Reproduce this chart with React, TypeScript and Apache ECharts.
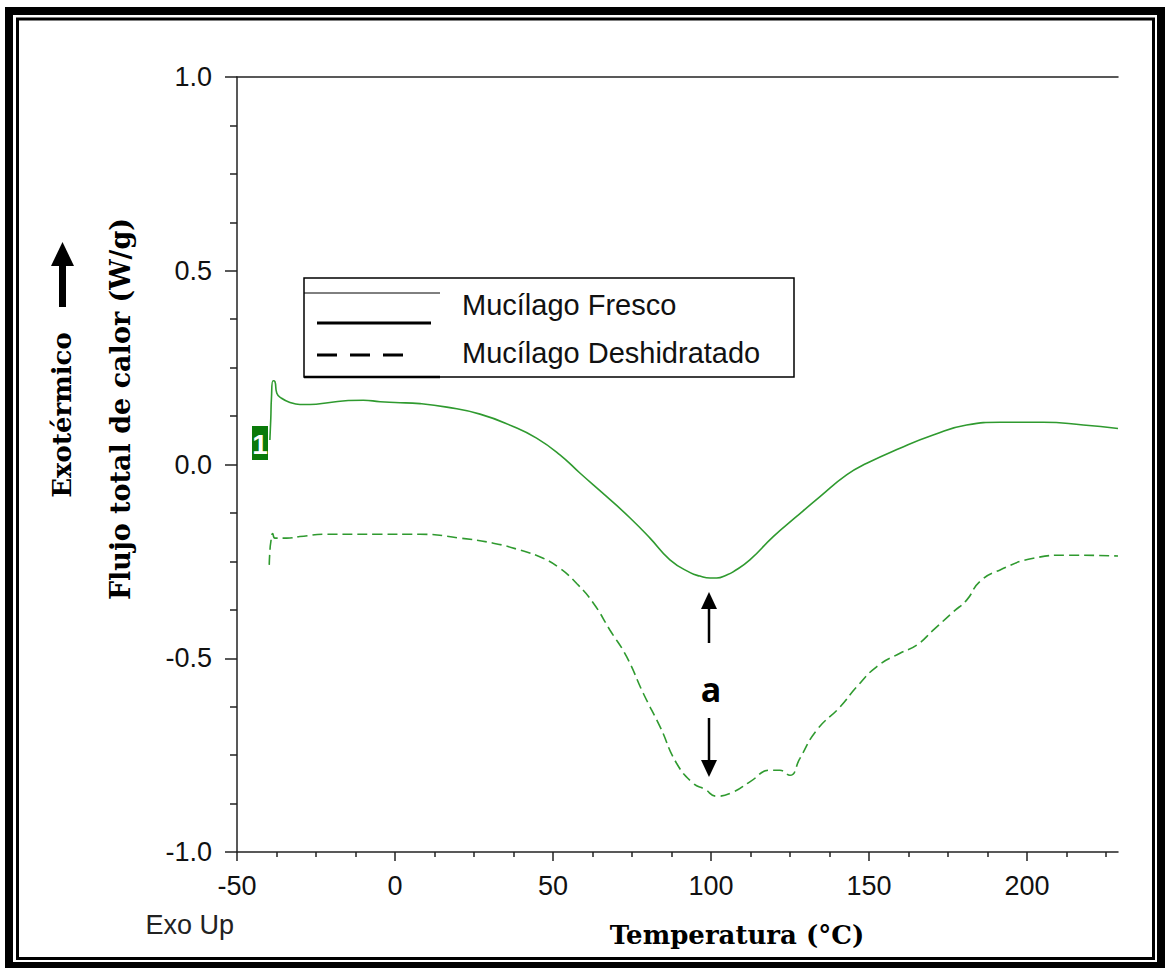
import React, { useEffect, useRef } from 'react';
import * as echarts from 'echarts';

const seriesNames = ['Mucílago Fresco', 'Mucílago Deshidratado'];

// Mucílago Fresco (solid)
const freshT = [-39.6, -39.3, -39.1, -38.6, -38.0, -37.4, -35.9, -33.2, -30.1, -26.9, -20.6, -14.8, -10, -4.7, 0, 7.9, 16.4, 26.9, 37.4, 44.8, 52.2, 58.5, 67.0, 74.4, 80.7, 87.0, 93.4, 96.5, 99.7, 101.8, 105.0, 107.0, 112.3, 119.7, 127.1, 134.5, 142.9, 149.3, 159.8, 170.3, 180.9, 191.5, 205.1, 217.8, 228.8];
const freshQ = [0.063, 0.12, 0.171, 0.216, 0.214, 0.184, 0.171, 0.160, 0.155, 0.155, 0.160, 0.165, 0.166, 0.162, 0.160, 0.157, 0.148, 0.130, 0.098, 0.068, 0.025, -0.022, -0.083, -0.138, -0.190, -0.246, -0.279, -0.288, -0.293, -0.293, -0.285, -0.277, -0.246, -0.186, -0.134, -0.083, -0.027, 0.003, 0.042, 0.076, 0.102, 0.109, 0.109, 0.102, 0.093];

// Mucílago Deshidratado (dashed)
const dryT = [-39.8, -39.6, -39.3, -38.7, -38.0, -34.3, -30.1, -21.6, -5.8, 7.9, 20.6, 31.1, 39.6, 46.9, 52.2, 57.5, 62.8, 68.0, 73.3, 78.6, 83.9, 89.1, 94.4, 98.0, 101.8, 107.1, 112.3, 118.7, 121.8, 125.0, 128.1, 133.4, 140.8, 146.1, 152.4, 159.8, 165.1, 170.4, 176.7, 180.9, 185.1, 191.5, 202.0, 212.6, 228.8];
const dryQ = [-0.259, -0.225, -0.200, -0.178, -0.190, -0.190, -0.186, -0.180, -0.180, -0.180, -0.190, -0.203, -0.221, -0.242, -0.268, -0.307, -0.358, -0.427, -0.496, -0.591, -0.677, -0.771, -0.823, -0.838, -0.856, -0.845, -0.819, -0.789, -0.789, -0.802, -0.759, -0.686, -0.626, -0.574, -0.522, -0.487, -0.466, -0.427, -0.380, -0.350, -0.302, -0.272, -0.242, -0.234, -0.236];

const xMajorTicks = [-50, 0, 50, 100, 150, 200];
const xMinorTicks = [-37.5, -25, -12.5, 12.5, 25, 37.5, 62.5, 75, 87.5, 112.5, 125, 137.5, 162.5, 175, 187.5, 212.5, 225];
const xMin = -50;
const xMax = 228.8;

const AXIS_COLOR = '#222';
const GREEN = '#2f9a2f';
const SANS = 'Arial, "Liberation Sans", sans-serif';
const SERIF = '"DejaVu Serif", serif';

const zip = (a: number[], b: number[]) => a.map((v, i) => [v, b[i]]);

function txt(text: string, x: number, y: number, opts: any = {}) {
  const align = opts.align || 'center';
  const valign = opts.valign || 'middle';
  return {
    type: 'text',
    x,
    y,
    rotation: opts.rotation || 0,
    silent: true,
    style: {
      text,
      fill: opts.fill || '#111',
      fontSize: opts.fontSize || 26,
      fontFamily: opts.fontFamily || SANS,
      fontWeight: opts.fontWeight || 'normal',
      align,
      verticalAlign: valign,
      textAlign: align,
      textVerticalAlign: valign,
    },
  };
}

export default function App() {
  const ref = useRef<HTMLDivElement>(null);

  useEffect(() => {
    if (!ref.current) return;
    const chart = echarts.init(ref.current, null, { renderer: 'svg' });
    const lineStyle = { color: AXIS_COLOR, width: 1.5 };

    const graphic: any[] = [
      // outer double border
      { type: 'rect', shape: { x: 9, y: 11, width: 1152, height: 955 }, style: { fill: 'none', stroke: '#000', lineWidth: 8 }, silent: true },
      { type: 'rect', shape: { x: 17.5, y: 19, width: 1136, height: 939.5 }, style: { fill: 'none', stroke: '#000', lineWidth: 3 }, silent: true },
      // legend box
      { type: 'rect', shape: { x: 304, y: 278, width: 490, height: 99 }, style: { fill: '#fff', stroke: '#000', lineWidth: 1.5 }, silent: true, z: 10 },
      { type: 'line', shape: { x1: 304, y1: 293, x2: 440, y2: 293 }, style: { stroke: '#000', lineWidth: 1 }, silent: true, z: 11 },
      { type: 'line', shape: { x1: 304, y1: 377, x2: 440, y2: 377 }, style: { stroke: '#000', lineWidth: 2.5 }, silent: true, z: 11 },
      { type: 'line', shape: { x1: 317, y1: 323, x2: 431, y2: 323 }, style: { stroke: '#000', lineWidth: 3 }, silent: true, z: 11 },
      { type: 'line', shape: { x1: 317, y1: 355, x2: 412, y2: 355 }, style: { stroke: '#000', lineWidth: 3, lineDash: [20, 13] }, silent: true, z: 11 },
      { ...txt(seriesNames[0], 462, 305, { align: 'left', fontSize: 29 }), z: 11 },
      { ...txt(seriesNames[1], 462, 353, { align: 'left', fontSize: 29 }), z: 11 },
      // "1" marker
      { type: 'rect', shape: { x: 252, y: 426, width: 16, height: 34 }, style: { fill: '#0a7a0a' }, silent: true, z: 12 },
      { ...txt('1', 260, 444, { fill: '#fff', fontSize: 28, fontWeight: 'bold' }), z: 13 },
      // annotation arrows and "a"
      { type: 'line', shape: { x1: 709, y1: 643, x2: 709, y2: 606 }, style: { stroke: '#000', lineWidth: 2.5 }, silent: true },
      { type: 'polygon', shape: { points: [[701, 609], [717, 609], [709, 592]] }, style: { fill: '#000' }, silent: true },
      { type: 'line', shape: { x1: 709, y1: 718, x2: 709, y2: 762 }, style: { stroke: '#000', lineWidth: 2.5 }, silent: true },
      { type: 'polygon', shape: { points: [[701, 760], [717, 760], [709, 777]] }, style: { fill: '#000' }, silent: true },
      txt('a', 711, 689, { fontSize: 34, fontFamily: '"Open Sans", sans-serif', fontWeight: 'bold', fill: '#000' }),
      // y axis titles
      txt('Flujo total de calor (W/g)', 120, 409, { rotation: Math.PI / 2, fontSize: 27, fontFamily: SERIF, fontWeight: 'bold', fill: '#000' }),
      txt('Exotérmico', 62, 415, { rotation: Math.PI / 2, fontSize: 26, fontFamily: SERIF, fontWeight: 'bold', fill: '#000' }),
      { type: 'rect', shape: { x: 59, y: 263, width: 7, height: 44 }, style: { fill: '#000' }, silent: true },
      { type: 'polygon', shape: { points: [[51, 266], [74, 266], [62.5, 242]] }, style: { fill: '#000' }, silent: true },
      // x axis title and Exo Up
      txt('Temperatura (°C)', 737, 935, { fontSize: 26, fontFamily: SERIF, fontWeight: 'bold', fill: '#000' }),
      txt('Exo Up', 234, 925, { align: 'right', fontSize: 27, fill: '#222' }),
    ];

    chart.setOption({
      animation: false,
      backgroundColor: '#fff',
      grid: { left: 237, top: 77, right: 47, bottom: 116, containLabel: false },
      xAxis: [
        {
          type: 'value', min: xMin, max: xMax, position: 'bottom',
          axisLine: { show: true, onZero: false, lineStyle },
          axisTick: { show: true, customValues: xMajorTicks, length: 9, lineStyle },
          axisLabel: { customValues: xMajorTicks, margin: 20, fontSize: 27, color: '#111', fontFamily: SANS },
          splitLine: { show: false },
        },
        {
          type: 'value', min: xMin, max: xMax, position: 'bottom',
          axisLine: { show: false, onZero: false },
          axisTick: { show: true, customValues: xMinorTicks, length: 5, lineStyle },
          axisLabel: { show: false },
          splitLine: { show: false },
        },
        {
          type: 'value', min: xMin, max: xMax, position: 'top',
          axisLine: { show: true, onZero: false, lineStyle },
          axisTick: { show: false },
          axisLabel: { show: false },
          splitLine: { show: false },
        },
      ],
      yAxis: {
        type: 'value', min: -1, max: 1, interval: 0.5,
        axisLine: { show: true, onZero: false, lineStyle },
        axisTick: { show: true, length: 12, lineStyle },
        minorTick: { show: true, splitNumber: 4, length: 7, lineStyle },
        axisLabel: { margin: 25, fontSize: 27, color: '#111', fontFamily: SANS, formatter: (v: number) => v.toFixed(1) },
        splitLine: { show: false },
        minorSplitLine: { show: false },
      },
      series: [
        {
          name: seriesNames[0], type: 'line', xAxisIndex: 0, yAxisIndex: 0,
          data: zip(freshT, freshQ), showSymbol: false, smooth: 0.5,
          lineStyle: { color: GREEN, width: 1.6, type: 'solid' },
        },
        {
          name: seriesNames[1], type: 'line', xAxisIndex: 0, yAxisIndex: 0,
          data: zip(dryT, dryQ), showSymbol: false, smooth: 0.5,
          lineStyle: { color: GREEN, width: 1.6, type: [10, 5] },
        },
      ],
      graphic,
    });
    return () => chart.dispose();
  }, []);

  return <div ref={ref} style={{ position: 'absolute', left: 0, top: 0, width: 1165, height: 968 }} />;
}
